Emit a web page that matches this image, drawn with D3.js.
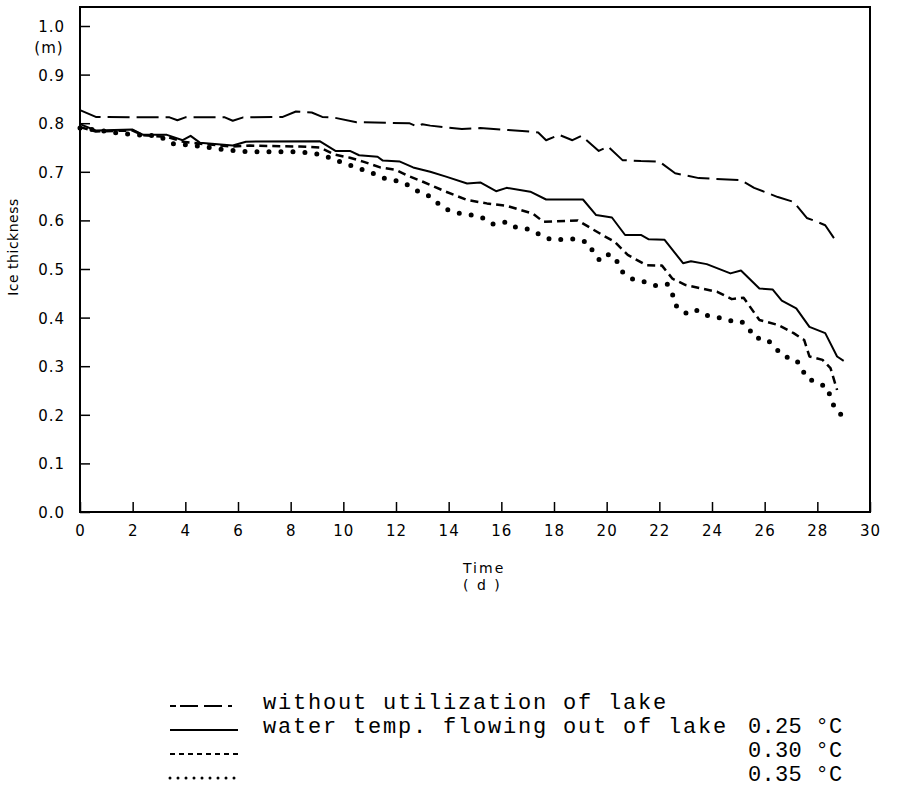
<!DOCTYPE html>
<html>
<head>
<meta charset="utf-8">
<script src="https://cdn.jsdelivr.net/npm/d3@7"></script>
<style>
  body { margin: 0; background: #fff; }
  svg { display: block; }
</style>
</head>
<body>
<svg id="chart" width="898" height="795"></svg>
<script>
// ice thickness (m) over time (d)
const daysNoUse = [0, 0.6, 2, 3.4, 3.7, 4.0, 5.5, 5.8, 6.2, 7.7, 8.2, 8.8, 9.2, 9.6, 10.5, 12.5, 12.8, 13.0, 13.3, 14.5, 15.2, 17.1, 17.4, 17.7, 18.2, 18.7, 19.05, 19.7, 20.05, 20.6, 21.3, 22.0, 22.6, 23.5, 25.1, 25.6, 26.5, 27.1, 27.6, 28.0, 28.3, 28.7];
const iceNoUse = [0.827, 0.813, 0.812, 0.812, 0.806, 0.812, 0.812, 0.805, 0.812, 0.813, 0.824, 0.822, 0.813, 0.812, 0.802, 0.800, 0.793, 0.798, 0.795, 0.788, 0.790, 0.783, 0.781, 0.765, 0.776, 0.765, 0.774, 0.743, 0.752, 0.724, 0.722, 0.721, 0.697, 0.687, 0.683, 0.667, 0.648, 0.638, 0.605, 0.597, 0.590, 0.558];

const days025 = [0, 0.6, 2.0, 2.4, 3.3, 3.9, 4.2, 4.55, 5.8, 6.3, 9.1, 9.7, 10.25, 10.6, 11.3, 11.5, 12.15, 12.65, 13.3, 13.9, 14.7, 15.2, 15.8, 16.2, 17.1, 17.7, 19.1, 19.6, 20.2, 20.7, 21.3, 21.6, 22.2, 22.9, 23.2, 23.8, 24.7, 25.1, 25.8, 26.3, 26.65, 27.2, 27.7, 28.3, 28.75, 29.0];
const ice025 = [0.798, 0.785, 0.787, 0.776, 0.776, 0.765, 0.774, 0.760, 0.754, 0.762, 0.763, 0.743, 0.743, 0.734, 0.731, 0.723, 0.721, 0.709, 0.700, 0.690, 0.676, 0.678, 0.660, 0.667, 0.659, 0.643, 0.643, 0.611, 0.606, 0.570, 0.570, 0.561, 0.560, 0.512, 0.516, 0.510, 0.491, 0.497, 0.460, 0.458, 0.435, 0.419, 0.381, 0.368, 0.320, 0.311];

const days030 = [0, 0.6, 2.0, 2.4, 3.3, 3.9, 4.5, 5.8, 6.45, 8.35, 9.1, 9.7, 10.25, 10.75, 11.4, 12.0, 12.4, 13.0, 13.9, 14.7, 15.45, 16.2, 17.2, 17.6, 18.9, 19.4, 19.9, 20.3, 20.8, 21.5, 22.1, 22.5, 23.0, 24.2, 24.75, 25.2, 25.8, 26.5, 27.1, 27.5, 27.7, 28.2, 28.5, 28.75];
const ice030 = [0.792, 0.783, 0.785, 0.775, 0.772, 0.762, 0.758, 0.752, 0.754, 0.752, 0.750, 0.735, 0.729, 0.721, 0.709, 0.704, 0.693, 0.680, 0.659, 0.642, 0.635, 0.630, 0.614, 0.597, 0.600, 0.584, 0.568, 0.556, 0.529, 0.508, 0.507, 0.480, 0.467, 0.453, 0.438, 0.441, 0.395, 0.385, 0.368, 0.354, 0.320, 0.313, 0.296, 0.251];

const days035 = [0, 0.8, 1.5, 2.2, 3.0, 3.5, 4.5, 5.4, 6.45, 8.35, 9.2, 9.7, 10.1, 10.55, 11.0, 11.45, 11.9, 12.35, 12.7, 13.2, 13.55, 13.9, 14.35, 14.9, 15.35, 15.7, 16.2, 16.55, 17.05, 17.5, 17.9, 18.85, 19.3, 19.5, 19.75, 20.1, 20.4, 20.6, 21.0, 21.4, 21.85, 22.3, 22.5, 22.6, 23.0, 23.35, 23.7, 24.15, 24.6, 25.1, 25.4, 25.6, 26.1, 26.4, 26.7, 27.2, 27.4, 27.6, 28.0, 28.4, 28.5, 28.7, 29.0];
const ice035 = [0.790, 0.785, 0.779, 0.776, 0.774, 0.758, 0.753, 0.746, 0.741, 0.741, 0.735, 0.724, 0.717, 0.707, 0.700, 0.688, 0.683, 0.676, 0.663, 0.652, 0.637, 0.623, 0.615, 0.611, 0.604, 0.592, 0.597, 0.586, 0.582, 0.570, 0.560, 0.562, 0.554, 0.534, 0.517, 0.531, 0.515, 0.494, 0.479, 0.474, 0.466, 0.469, 0.448, 0.426, 0.409, 0.417, 0.405, 0.402, 0.394, 0.393, 0.378, 0.359, 0.355, 0.338, 0.321, 0.313, 0.296, 0.275, 0.266, 0.256, 0.234, 0.210, 0.196];

const xTicks = [0, 2, 4, 6, 8, 10, 12, 14, 16, 18, 20, 22, 24, 26, 28, 30];
const yTicks = [0.0, 0.1, 0.2, 0.3, 0.4, 0.5, 0.6, 0.7, 0.8, 0.9, 1.0];

const legendLabels = ["without utilization of lake", "water temp. flowing out of lake", "", ""];
const legendTemps = ["", "0.25", "0.30", "0.35"];

const svg = d3.select("#chart");
svg.append("rect").attr("width", 898).attr("height", 795).attr("fill", "#fff");

const x = d3.scaleLinear().domain([0, 30]).range([80, 870]);
const y = d3.scaleLinear().domain([0, 1]).range([512, 26]);
const yTop = 7;

const sans = "'DejaVu Sans', sans-serif";
const mono = "'Liberation Mono', 'DejaVu Sans Mono', monospace";

// frame
svg.append("rect")
    .attr("x", x(0)).attr("y", yTop)
    .attr("width", x(30) - x(0)).attr("height", y(0) - yTop)
    .attr("fill", "none").attr("stroke", "#000").attr("stroke-width", 2);

// axes with inward ticks
const xAxis = svg.append("g").attr("transform", `translate(0,${y(0)})`)
    .call(d3.axisBottom(x).tickValues(xTicks).tickSize(-10).tickPadding(13).tickFormat(d3.format("d")));
const yAxis = svg.append("g").attr("transform", `translate(${x(0)},0)`)
    .call(d3.axisLeft(y).tickValues(yTicks).tickSize(-10).tickPadding(15).tickFormat(d3.format(".1f")));

[xAxis, yAxis].forEach(g => {
    g.select(".domain").remove();
    g.selectAll(".tick line").attr("stroke", "#000").attr("stroke-width", 1.5);
    g.selectAll(".tick text").attr("fill", "#000")
        .style("font-family", sans).style("font-size", "15px").style("letter-spacing", "1px");
});
yAxis.selectAll(".tick text").attr("dy", "0.36em");

// unit under 1.0
svg.append("text").attr("x", 49).attr("y", 53).attr("text-anchor", "middle")
    .style("font-family", sans).style("font-size", "15px").style("letter-spacing", "1px")
    .text("(m)");

// axis titles
svg.append("text")
    .attr("transform", "translate(18,247) rotate(-90)")
    .attr("text-anchor", "middle")
    .style("font-family", sans).style("font-size", "14px").style("letter-spacing", "0.5px")
    .text("Ice  thickness");
svg.append("text").attr("x", 463).attr("y", 573)
    .style("font-family", sans).style("font-size", "14px").style("letter-spacing", "2px")
    .text("Time");
svg.append("text").attr("x", 463).attr("y", 590)
    .style("font-family", sans).style("font-size", "14px").style("letter-spacing", "2px")
    .text("( d )");

// series
const series = [
    { days: daysNoUse, ice: iceNoUse, dash: "22,7", width: 2, cap: "butt" },
    { days: days025, ice: ice025, dash: null, width: 2, cap: "butt" },
    { days: days030, ice: ice030, dash: "8,5", width: 2.5, cap: "butt" },
    { days: days035, ice: ice035, dash: "0,12", width: 5, cap: "round" }
];

const line = d3.line().x(d => x(d[0])).y(d => y(d[1]));

series.forEach(s => {
    svg.append("path")
        .datum(s.days.map((d, i) => [d, s.ice[i]]))
        .attr("d", line)
        .attr("fill", "none")
        .attr("stroke", "#000")
        .attr("stroke-width", s.width)
        .attr("stroke-linecap", s.cap)
        .attr("stroke-linejoin", "round")
        .attr("stroke-dasharray", s.dash);
});

// legend
const legendY = d3.scaleLinear().domain([0, 3]).range([709, 781]);
const legendDash = ["6,4,18,6,18", null, "5,4", "0,8"];
const legendWidth = [2, 2, 2, 3];
const legendCap = ["butt", "butt", "butt", "round"];

legendLabels.forEach((label, i) => {
    const ly = legendY(i);
    svg.append("line")
        .attr("x1", 170).attr("x2", 238)
        .attr("y1", ly - 3).attr("y2", ly - 3)
        .attr("stroke", "#000")
        .attr("stroke-width", legendWidth[i])
        .attr("stroke-linecap", legendCap[i])
        .attr("stroke-dasharray", legendDash[i]);
    if (label) {
        svg.append("text").attr("x", 263).attr("y", ly)
            .style("font-family", mono).style("font-size", "22px").style("letter-spacing", "1.8px")
            .text(label);
    }
    if (legendTemps[i]) {
        svg.append("text").attr("x", 748).attr("y", ly)
            .style("font-family", mono).style("font-size", "22px").style("letter-spacing", "0.3px")
            .text(legendTemps[i] + " °C");
    }
});
</script>
</body>
</html>
